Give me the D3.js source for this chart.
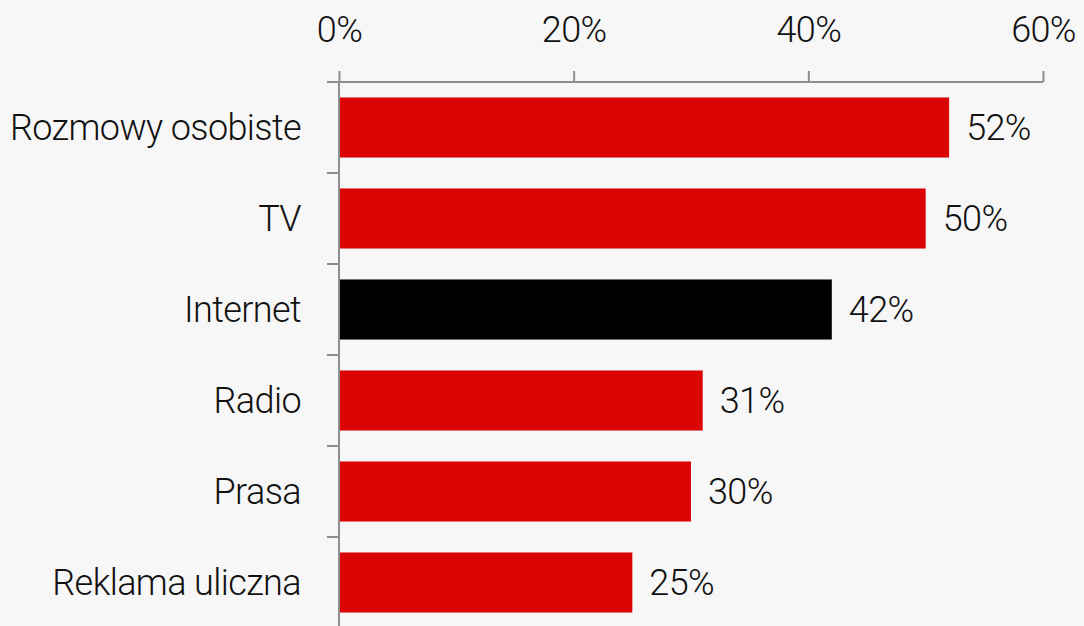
<!DOCTYPE html>
<html>
<head>
<meta charset="utf-8">
<script src="https://cdn.jsdelivr.net/npm/d3@7/dist/d3.min.js"></script>
<style>
  html, body { margin: 0; padding: 0; background: #f7f7f7; }
  svg { display: block; }
  text { font-family: Roboto, "Liberation Sans", sans-serif; font-weight: 300; fill: #111; letter-spacing: -0.6px; }
</style>
</head>
<body>
<svg id="chart" width="1084" height="626"></svg>
<script>
// Share of respondents by information source
const categories = ["Rozmowy osobiste", "TV", "Internet", "Radio", "Prasa", "Reklama uliczna"];
const values = [52, 50, 42, 31, 30, 25];
const highlighted = ["Internet"];
const xTicks = [0, 20, 40, 60];

const W = 1084, H = 626;
const plotLeft = 339, plotRight = 1043, plotTop = 82, plotBottom = 628;

const svg = d3.select("#chart");
svg.append("rect").attr("width", W).attr("height", H).attr("fill", "#f7f7f7");

const x = d3.scaleLinear().domain([0, 60]).range([plotLeft, plotRight]);
const y = d3.scaleBand().domain(categories).range([plotTop, plotBottom])
  .paddingInner(0.34).paddingOuter(0.17);

const axisColor = "#8f8f8f";

// bars
svg.append("g").selectAll("rect")
  .data(categories)
  .join("rect")
  .attr("x", x(0))
  .attr("y", d => y(d))
  .attr("width", (d, i) => x(values[i]) - x(0))
  .attr("height", y.bandwidth())
  .attr("fill", d => highlighted.includes(d) ? "#000000" : "#dc0505");

// top axis
const xAxis = svg.append("g")
  .attr("transform", `translate(0,${plotTop})`)
  .call(d3.axisTop(x).tickValues(xTicks).tickFormat(d => d + "%").tickSize(11).tickPadding(29));
xAxis.select(".domain").remove();
xAxis.selectAll(".tick line").attr("stroke", axisColor).attr("stroke-width", 2);
xAxis.selectAll(".tick text")
  .attr("font-size", 36).attr("font-family", "Roboto, sans-serif")
  .attr("font-weight", 300).attr("fill", "#111");
xAxis.append("line")
  .attr("x1", plotLeft - 12).attr("x2", plotRight).attr("y1", 0).attr("y2", 0)
  .attr("stroke", axisColor).attr("stroke-width", 2);

// left axis with ticks between categories
const yAxis = svg.append("g");
yAxis.append("line")
  .attr("x1", plotLeft).attr("x2", plotLeft).attr("y1", plotTop).attr("y2", H)
  .attr("stroke", axisColor).attr("stroke-width", 2);
const gap = y.step() * y.paddingInner() / 2;
yAxis.selectAll("line.sep")
  .data(categories.slice(1))
  .join("line")
  .attr("class", "sep")
  .attr("x1", plotLeft - 12).attr("x2", plotLeft)
  .attr("y1", d => y(d) - gap).attr("y2", d => y(d) - gap)
  .attr("stroke", axisColor).attr("stroke-width", 2);

// category labels
svg.append("g").selectAll("text")
  .data(categories)
  .join("text")
  .attr("x", plotLeft - 38)
  .attr("y", d => y(d) + y.bandwidth() / 2)
  .attr("dy", "0.36em")
  .attr("text-anchor", "end")
  .attr("font-size", 36)
  .text(d => d);

// value labels
svg.append("g").selectAll("text")
  .data(categories)
  .join("text")
  .attr("x", (d, i) => x(values[i]) + 17)
  .attr("y", d => y(d) + y.bandwidth() / 2)
  .attr("dy", "0.36em")
  .attr("font-size", 36)
  .text((d, i) => values[i] + "%");
</script>
</body>
</html>
